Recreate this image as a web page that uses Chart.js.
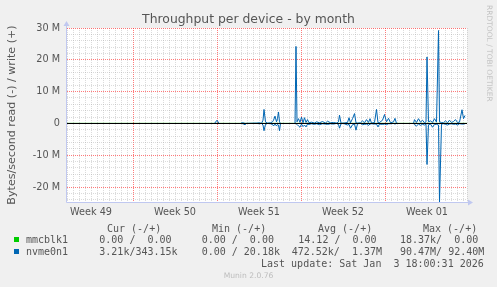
<!DOCTYPE html>
<html>
<head>
<meta charset="utf-8">
<title>Throughput per device - by month</title>
<script src="https://cdn.jsdelivr.net/npm/chart.js@4.4.1/dist/chart.umd.min.js"></script>
<style>
  html, body { margin: 0; padding: 0; background: #f0f0f0; }
  #wrap { position: relative; width: 497px; height: 287px; overflow: hidden; }
  #chart { position: absolute; left: 0; top: 0; }
  .t { position: absolute; white-space: pre; color: #555; }
  .mono { font: 10px/12px "DejaVu Sans Mono", monospace; }
  .sw { position: absolute; width: 5px; height: 5px; }
</style>
</head>
<body>
<div id="wrap">
  <canvas id="chart" width="497" height="287"></canvas>

  <div class="t" style="left:0;width:497px;top:10.5px;text-align:center;font:12.4px/15px 'DejaVu Sans',sans-serif;">Throughput per device - by month</div>
  <div class="t" style="left:493.5px;top:5px;transform:rotate(90deg);transform-origin:0 0;font:7.5px/10px 'DejaVu Sans',sans-serif;color:#c4c4c4;">RRDTOOL / TOBI OETIKER</div>

  <div class="t mono" style="left:107px;top:222.7px;">Cur (-/+)</div>
  <div class="t mono" style="left:212px;top:222.7px;">Min (-/+)</div>
  <div class="t mono" style="left:318px;top:222.7px;">Avg (-/+)</div>
  <div class="t mono" style="left:423px;top:222.7px;">Max (-/+)</div>

  <div class="sw" style="left:14px;top:237px;background:#00cc00;"></div>
  <div class="t mono" style="left:26px;top:233.9px;">mmcblk1</div>
  <div class="t mono" style="left:99.3px;top:233.9px;">0.00 /  0.00</div>
  <div class="t mono" style="left:201.7px;top:233.9px;">0.00 /  0.00</div>
  <div class="t mono" style="left:298.3px;top:233.9px;">14.12 /  0.00</div>
  <div class="t mono" style="left:400px;top:233.9px;">18.37k/  0.00</div>

  <div class="sw" style="left:14px;top:249px;background:#0066b3;"></div>
  <div class="t mono" style="left:26px;top:245.7px;">nvme0n1</div>
  <div class="t mono" style="left:99.3px;top:245.7px;">3.21k/343.15k</div>
  <div class="t mono" style="left:201.7px;top:245.7px;">0.00 / 20.18k</div>
  <div class="t mono" style="left:291.7px;top:245.7px;">472.52k/  1.37M</div>
  <div class="t mono" style="left:400px;top:245.7px;">90.47M/ 92.40M</div>

  <div class="t mono" style="left:261px;top:257.7px;">Last update: Sat Jan  3 18:00:31 2026</div>
  <div class="t" style="left:0;width:497px;top:271.4px;text-align:center;font:7.6px/10px 'DejaVu Sans',sans-serif;color:#bdbdbd;">Munin 2.0.76</div>
</div>

<script>
// x axis: hours since the start of the month view (2 hours per pixel)
const weekLabels = ['Week 49', 'Week 50', 'Week 51', 'Week 52', 'Week 01'];
const weekLabelHours = [48, 216, 384, 552, 720];
const weekStartHours = [132, 300, 468, 636];

// y axis ticks (MB/s)
const yTickValues = [-24, -22, -20, -18, -16, -14, -12, -10, -8, -6, -4, -2, 0,
                     2, 4, 6, 8, 10, 12, 14, 16, 18, 20, 22, 24, 26, 28, 30];

// mmcblk1 - flat at zero
const mmcHours = [0, 800];
const mmcWrite = [0, 0];
const mmcRead = [0, 0];

// nvme0n1 - write (+) and read (-), in M
const nvmeHours = [295, 300, 304, 326, 348, 352, 356, 359, 379, 385, 389, 392, 394, 397, 401, 407,
  411, 413, 416, 419, 421, 423, 425, 427, 440, 456, 458, 460, 463, 466, 469, 472, 475, 478, 481,
  484, 489, 495, 499, 505, 511, 517, 521, 527, 533, 539, 543, 545, 548, 553, 561, 564, 567, 571,
  575, 578, 581, 587, 591, 595, 599, 603, 606, 609, 615, 619, 622, 625, 631, 635, 639, 643, 647,
  653, 656, 659, 676, 693, 695, 699, 703, 707, 711, 715, 718, 720, 723, 727, 731, 735, 739, 743,
  745, 749, 753, 757, 761, 765, 769, 773, 777, 781, 785, 790, 793, 796];
const nvmeWrite = [0, 1.0, 0, null, 0.1, 0.2, 0, 0, 0.1, 0.2, 0, 1.0, 4.4, 0.5, 0.1, 0.2,
  0.5, 1.0, 2.3, 0.5, 1.5, 3.6, 0.5, 0, null, 0, 24.2, 0.5, 1.5, 0.3, 2.0, 0.2, 1.8, 0.3, 1.2,
  0.2, 0.4, 0.1, 0.5, 0.2, 0.6, 0.1, 0.7, 0.2, 0.3, 0.1, 0.5, 2.6, 0.1, 0.1, 0.3, 1.8, 0.2, 1.5,
  3.1, 0.2, 0.1, 0.2, 0.8, 0.2, 1.2, 0.3, 1.5, 0.1, 0.3, 4.4, 0.2, 0.3, 1.0, 2.8, 0.5, 1.6, 0.2,
  0.5, 1.6, 0, null, 0, 1.2, 0.3, 1.5, 0.4, 1.0, 0.2, 0.5, 20.9, 0.5, 0.8, 0.3, 1.5, 0.4, 29.2,
  0.5, 0.3, 0.2, 0.8, 0.2, 1.0, 0.3, 0.6, 1.2, 0.3, 0.4, 4.3, 1.5, 2.5];
const nvmeRead = [0, 0, 0, null, 0, 0.1, 0.4, 0, 0, 0.1, 0, 0.5, 2.3, 0.3, 0, 0.1,
  0.3, 0.8, 0.2, 0.8, 0.3, 0.5, 2.3, 0, null, 0, 0, 0.3, 0.8, 1.2, 0.2, 1.0, 0.5, 1.1, 0.2,
  0.3, 0.1, 0.3, 0.1, 0.4, 0.1, 0.2, 0.3, 0.1, 0.2, 0, 0.3, 1.5, 0.1, 0, 0.5, 0.3, 1.5, 0.4,
  0.2, 2.1, 0.1, 0, 0.4, 0.3, 0.2, 0.6, 0.2, 0.1, 0.2, 0.2, 1.1, 0.2, 0.3, 0.2, 0.4, 0.1, 0.1,
  0, 0.2, 0, null, 0, 0.4, 0.8, 0.2, 0.6, 0.3, 0.5, 0.2, 12.9, 0.4, 0.2, 1.2, 0.3, 0.3, 0.5,
  24.7, 0.2, 0.1, 0.3, 0.5, 0.2, 0.1, 0.3, 0.2, 0.5, 0.1, 0.2, 0.2, 0.1];

const MINOR = 'rgba(165,165,165,0.4)';
const MAJOR = 'rgba(255,50,50,0.65)';
const AXIS = '#c0c8f0';
const FONT = '"DejaVu Sans", sans-serif';

// read is drawn below zero like munin does
function points(hours, values, sign) {
    return hours.map((h, i) => ({ x: h, y: values[i] === null ? null : sign * values[i] }));
}

function line(label, data, color, order) {
    return {
        label: label,
        data: data,
        borderColor: color,
        borderWidth: 1,
        pointRadius: 0,
        tension: 0,
        spanGaps: false,
        order: order
    };
}

// grid every 12 hours along x
const gridHours = [];
for (let h = 0; h < 800; h += 12) gridHours.push(h);
gridHours.push(800);

function tickValue(c) {
    return c.tick ? c.tick.value : null;
}

const muninPlugin = {
    id: 'munin',
    beforeDraw(chart) {
        const a = chart.chartArea;
        const ctx = chart.ctx;
        ctx.save();
        ctx.fillStyle = '#ffffff';
        ctx.fillRect(a.left, a.top, a.right - a.left, a.bottom - a.top);
        ctx.restore();
    },
    afterDatasetsDraw(chart) {
        // black zero rule
        const a = chart.chartArea;
        const ctx = chart.ctx;
        const y0 = Math.round(chart.scales.y.getPixelForValue(0)) + 0.5;
        ctx.save();
        ctx.strokeStyle = '#000000';
        ctx.lineWidth = 1;
        ctx.beginPath();
        ctx.moveTo(a.left, y0);
        ctx.lineTo(a.right, y0);
        ctx.stroke();
        ctx.restore();
    },
    afterDraw(chart) {
        // axes with arrows
        const a = chart.chartArea;
        const ctx = chart.ctx;
        const x = Math.round(a.left) - 0.5;
        const y = Math.round(a.bottom) + 0.5;
        ctx.save();
        ctx.strokeStyle = AXIS;
        ctx.fillStyle = AXIS;
        ctx.lineWidth = 1;
        ctx.beginPath();
        ctx.moveTo(x, y);
        ctx.lineTo(x, a.top - 2);
        ctx.moveTo(x, y);
        ctx.lineTo(a.right + 2, y);
        ctx.stroke();
        ctx.beginPath();
        ctx.moveTo(x, a.top - 7);
        ctx.lineTo(x - 3, a.top - 2);
        ctx.lineTo(x + 3, a.top - 2);
        ctx.closePath();
        ctx.fill();
        ctx.beginPath();
        ctx.moveTo(a.right + 6, y);
        ctx.lineTo(a.right + 1, y - 3);
        ctx.lineTo(a.right + 1, y + 3);
        ctx.closePath();
        ctx.fill();
        ctx.restore();
    }
};

const ctx = document.getElementById('chart').getContext('2d');
const chart = new Chart(ctx, {
    type: 'line',
    data: {
        datasets: [
            line('nvme0n1 write', points(nvmeHours, nvmeWrite, 1), '#0066b3', 0),
            line('nvme0n1 read', points(nvmeHours, nvmeRead, -1), '#0066b3', 1),
            line('mmcblk1 write', points(mmcHours, mmcWrite, 1), '#00cc00', 2),
            line('mmcblk1 read', points(mmcHours, mmcRead, -1), '#00cc00', 3)
        ]
    },
    options: {
        responsive: false,
        animation: false,
        layout: { padding: { left: 0, top: 28, right: 30, bottom: 65 } },
        plugins: {
            legend: { display: false },
            tooltip: { enabled: false },
            title: { display: false }
        },
        scales: {
            x: {
                type: 'linear',
                min: 0,
                max: 800,
                afterBuildTicks: scale => { scale.ticks = gridHours.map(v => ({ value: v })); },
                afterFit: scale => { scale.height = 20; },
                grid: {
                    color: c => weekStartHours.includes(tickValue(c)) ? MAJOR : MINOR,
                    lineWidth: 1,
                    drawTicks: false
                },
                border: { display: false, dash: [1, 1] },
                ticks: {
                    autoSkip: false,
                    maxRotation: 0,
                    padding: 5,
                    color: '#555',
                    font: { family: FONT, size: 9.7 },
                    callback: v => {
                        const i = weekLabelHours.indexOf(v);
                        return i >= 0 ? weekLabels[i] : '';
                    }
                }
            },
            y: {
                min: -24.7,
                max: 30,
                afterBuildTicks: scale => { scale.ticks = yTickValues.map(v => ({ value: v })); },
                afterFit: scale => { scale.width = 67; },
                grid: {
                    color: c => (tickValue(c) !== null && tickValue(c) % 10 === 0) ? MAJOR : MINOR,
                    lineWidth: 1,
                    drawTicks: false
                },
                border: { display: false, dash: [1, 1] },
                ticks: {
                    autoSkip: false,
                    padding: 7,
                    color: '#555',
                    font: { family: FONT, size: 9.7 },
                    callback: v => v % 10 === 0 ? (v === 0 ? '0' : v + ' M') : ''
                },
                title: {
                    display: true,
                    text: 'Bytes/second read (-) / write (+)',
                    color: '#555',
                    font: { family: FONT, size: 11.1 },
                    padding: { top: 5, bottom: 0 }
                }
            }
        }
    },
    plugins: [muninPlugin]
});
</script>
</body>
</html>
